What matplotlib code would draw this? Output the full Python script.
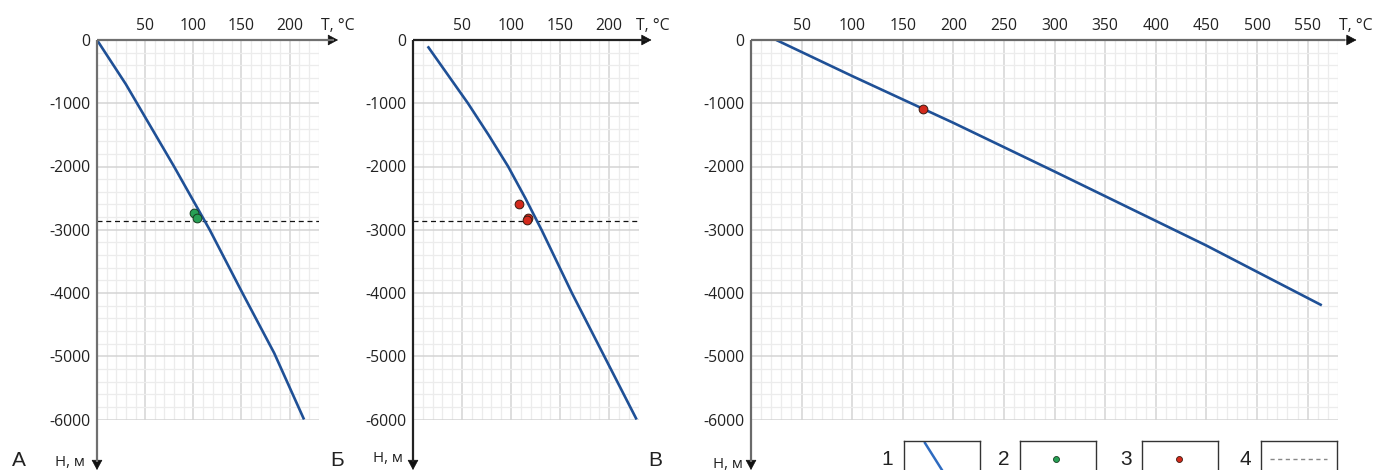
import matplotlib
matplotlib.use('Agg')
import matplotlib.pyplot as plt
from matplotlib.ticker import MultipleLocator

W, H, DPI = 1376, 470, 100

# ---------------- data ----------------
a_curve_T = [0, 30, 80, 117, 151, 184, 215]
a_curve_H = [0, -700, -2000, -3000, -4000, -4950, -6000]
a_points_T = [100.5, 104]
a_points_H = [-2740, -2820]

b_curve_T = [15, 56, 77, 97, 114.5, 131, 162, 195, 228]
b_curve_H = [-100, -1000, -1500, -2000, -2500, -3000, -4000, -5000, -6000]
b_points_T = [108, 117, 116]
b_points_H = [-2600, -2810, -2850]

c_curve_T = [25, 100, 200, 300, 400, 450, 500, 564]
c_curve_H = [0, -570, -1310, -2080, -2860, -3250, -3665, -4195]
c_points_T = [170]
c_points_H = [-1095]

contact_depth = -2865

ab_xticks = [50, 100, 150, 200]
c_xticks = [50, 100, 150, 200, 250, 300, 350, 400, 450, 500, 550]
y_ticks = [0, -1000, -2000, -3000, -4000, -5000, -6000]
panel_letters = ['А', 'Б', 'В']
legend_numbers = ['1', '2', '3', '4']
x_label = 'T, °C'
y_label = 'H, м'

# ---------------- style ----------------
BLUE = '#1f5096'
GREEN = '#27a055'
RED = '#d3291c'
FONT = 'Open Sans'
LFONT = 'Liberation Sans'
TS = 11.3

fig = plt.figure(figsize=(W / DPI, H / DPI), dpi=DPI)
fig.patch.set_facecolor('white')


def add_px_axes(left, top, right, bottom):
    return fig.add_axes([left / W, 1 - bottom / H, (right - left) / W, (bottom - top) / H])


def px_to_ax(box, px, py):
    l, t, r, b = box
    return (px - l) / (r - l), 1 - (py - t) / (b - t)


panels = [
    dict(box=(97, 40, 318.5, 419.5), xmax=230, xt=ab_xticks, T=a_curve_T, Hd=a_curve_H,
         pT=a_points_T, pH=a_points_H, pc=GREEN, dashed=True, axc='#707070',
         xtip=338, tlab=(321, 26), hlab=(85, 463), letter=(12, 466)),
    dict(box=(413, 40, 638.6, 419.5), xmax=230, xt=ab_xticks, T=b_curve_T, Hd=b_curve_H,
         pT=b_points_T, pH=b_points_H, pc=RED, dashed=True, axc='#222222',
         xtip=651.5, tlab=(636, 26), hlab=(403, 458), letter=(330, 466)),
    dict(box=(751, 40, 1338, 419.5), xmax=580, xt=c_xticks, T=c_curve_T, Hd=c_curve_H,
         pT=c_points_T, pH=c_points_H, pc=RED, dashed=False, axc='#6a6a6a',
         xtip=1356.5, tlab=(1339, 26), hlab=(743, 464), letter=(648, 466)),
]

for i, p in enumerate(panels):
    box = p['box']
    ax = add_px_axes(*box)
    ax.set_xlim(0, p['xmax'])
    ax.set_ylim(-6000, 0)
    for s in ax.spines.values():
        s.set_visible(False)
    ax.set_xticks([0] + p['xt'])
    ax.set_xticklabels([''] + [str(v) for v in p['xt']])
    ax.set_yticks(y_ticks)
    ax.set_yticklabels([str(v) for v in y_ticks])
    ax.xaxis.set_minor_locator(MultipleLocator(10))
    ax.yaxis.set_minor_locator(MultipleLocator(200))
    ax.tick_params(axis='x', which='both', length=0, top=False, bottom=False,
                   labeltop=True, labelbottom=False, pad=4.5)
    ax.tick_params(axis='y', which='both', length=0, pad=4.5)
    for lab in ax.get_xticklabels() + ax.get_yticklabels():
        lab.set_fontfamily(FONT)
        lab.set_fontsize(TS)
        lab.set_color('#222222')
    ax.set_axisbelow(True)
    ax.grid(which='minor', color='#ececec', lw=0.9)
    ax.grid(which='major', color='#d4d4d4', lw=1.1)

    # data
    ax.plot(p['T'], p['Hd'], color=BLUE, lw=1.9, zorder=4, solid_capstyle='butt',
            solid_joinstyle='round')
    if p['dashed']:
        ax.axhline(contact_depth, color='#111111', lw=0.9, ls=(0, (4, 3)), zorder=3)
    ax.plot(p['pT'], p['pH'], 'o', ms=6.3, mfc=p['pc'], mec='#3a1a10' if p['pc'] == RED else '#163d20',
            mew=0.7, zorder=5)

    # axes lines with arrows
    xtip_fx, _ = px_to_ax(box, p['xtip'], 40)
    _, ytip_fy = px_to_ax(box, 0, 470)
    ax.plot([0, xtip_fx - 0.02], [1, 1], color=p['axc'], lw=1.6, transform=ax.transAxes,
            clip_on=False, zorder=6, solid_capstyle='butt')
    ax.plot([0, 0], [1, ytip_fy + 0.02], color=p['axc'], lw=1.6, transform=ax.transAxes,
            clip_on=False, zorder=6, solid_capstyle='butt')
    ax.annotate('', xy=(xtip_fx, 1), xytext=(xtip_fx - 0.03, 1), xycoords='axes fraction',
                arrowprops=dict(arrowstyle='-|>,head_length=0.65,head_width=0.35', color='#111111',
                                lw=0.5, shrinkA=0, shrinkB=0), annotation_clip=False)
    ax.annotate('', xy=(0, ytip_fy), xytext=(0, ytip_fy + 0.03), xycoords='axes fraction',
                arrowprops=dict(arrowstyle='-|>,head_length=0.65,head_width=0.35', color='#111111',
                                lw=0.5, shrinkA=0, shrinkB=0), annotation_clip=False)

    # axis labels
    tx, ty = px_to_ax(box, *p['tlab'])
    ax.text(tx, ty, x_label, transform=ax.transAxes, ha='left', va='center',
            fontfamily=FONT, fontsize=TS, color='#222222')
    hx, hy = px_to_ax(box, *p['hlab'])
    ax.text(hx, hy, y_label, transform=ax.transAxes, ha='right', va='center',
            fontfamily=FONT, fontsize=TS - 0.5, color='#222222')
    lx, ly = px_to_ax(box, *p['letter'])
    ax.text(lx, ly, panel_letters[i], transform=ax.transAxes, ha='left', va='baseline',
            fontfamily=LFONT, fontsize=15, color='#222222')

# ---------------- legend ----------------
leg_boxes = [(904, 980), (1020, 1096), (1142, 1218), (1261, 1337)]
leg_num_x = [887, 1004, 1126, 1245]
for k, (l, r) in enumerate(leg_boxes):
    lax = add_px_axes(l, 441, r, 478)
    lax.set_xlim(0, 1)
    lax.set_ylim(0, 1)
    lax.set_xticks([])
    lax.set_yticks([])
    for s in lax.spines.values():
        s.set_color('#333333')
        s.set_linewidth(1.0)
    if k == 0:
        lax.plot([0.276, 0.566], [0.946, 0.0], color='#2e6bc0', lw=1.8)
    elif k == 1:
        lax.plot([0.48], [0.514], 'o', ms=4.3, mfc=GREEN, mec='#163d20', mew=0.6)
    elif k == 2:
        lax.plot([0.49], [0.514], 'o', ms=4.3, mfc=RED, mec='#3a1a10', mew=0.6)
    else:
        lax.plot([0.12, 0.87], [0.514, 0.514], color='#888888', lw=1.0, ls=(0, (3, 2.5)))
    fig.text(leg_num_x[k] / W, 1 - 465 / H, legend_numbers[k], ha='center', va='baseline',
             fontfamily=LFONT, fontsize=15, color='#222222')

fig.savefig('out.png', dpi=DPI, facecolor='white')
